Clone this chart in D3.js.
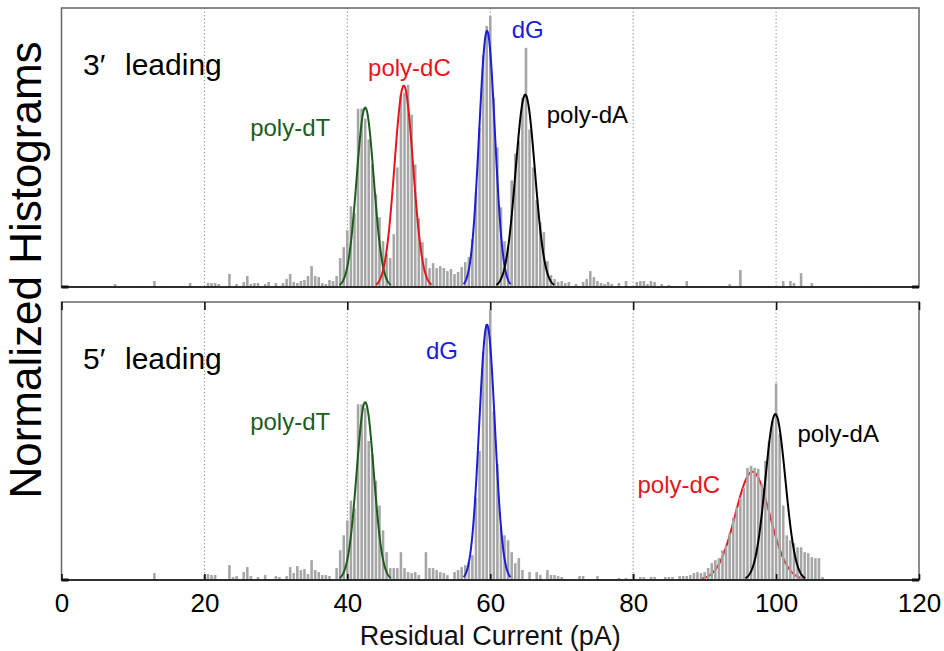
<!DOCTYPE html>
<html>
<head>
<meta charset="utf-8">
<script src="https://cdn.jsdelivr.net/npm/d3@7"></script>
<style>
  html, body { margin: 0; padding: 0; background: #fff; }
  svg { display: block; font-family: "Liberation Sans", Arial, Helvetica, sans-serif; }
</style>
</head>
<body>
<svg id="chart" width="944" height="651"></svg>
<script>
// Residual current histograms (0.5 pA bins): [bin centre pA, normalized count]
const hist3Leading = [
  [3,1],[7.5,3],[11,1],[13,6],[14,1],[18,4],[20.5,4],[21,4],[21.5,4],[22,3],[23.5,13],[24.5,3],
  [25.5,5],[26,11],[26.5,3],[27,4],[27.5,4],[28.5,3],[29,5],[30,4],[31,4],[31.5,8],[32,13],[32.5,5],
  [33,4],[33.5,6],[34,7],[34.5,11],[35,21],[35.5,11],[36,10],[36.5,4],[37,3],[37.5,7],[38,6],[38.5,11],
  [39,29],[39.5,40],[40,57],[40.5,81],[41,74],[41.5,179],[42,179],[42.5,169],[43,148],[43.5,123],[44,93],
  [44.5,70],[45,46],[45.5,33],[46,29],[46.5,53],[47,120],[47.5,193],[48,195],[48.5,203],[49,173],
  [49.5,123],[50,69],[50.5,45],[51,29],[51.5,19],[52,24],[52.5,19],[53,21],[53.5,19],[54,16],[54.5,18],
  [55,13],[55.5,15],[56,20],[56.5,25],[57,30],[57.5,48],[58,95],[58.5,160],[59,233],[59.5,262],[60,272],
  [60.5,190],[61,140],[61.5,80],[62,46],[62.5,40],[63,107],[63.5,134],[64,147],[64.5,190],[65,240],
  [65.5,158],[66,120],[66.5,87],[67,65],[67.5,55],[68,26],[68.5,12],[69,8],[69.5,5],[70,6],[70.5,4],
  [71,5],[72,3],[73,5],[73.5,8],[74,16],[74.5,10],[75,6],[75.5,4],[76,3],[76.5,5],[77,3],[78,4],[79,6],
  [80.5,5],[81,6],[81.5,6],[82,3],[82.5,6],[83,5],[84,3],[85,2],[87.5,6],[89.5,1],[93.5,3],[95,17],
  [99,1],[101,6],[102,6],[102.5,4],[103.5,14],[105,4],[112.5,1]
];

const hist5Leading = [
  [13,7],[18,1],[20,5],[20.5,6],[21,5],[21.5,5],[23.5,15],[24,3],[24.5,4],[25.5,8],[26,13],[26.5,4],
  [27.5,3],[28.5,5],[30,4],[30.5,3],[31.5,4],[32,13],[32.5,7],[33,14],[33.5,10],[34,11],[34.5,6],[35,20],
  [35.5,10],[36,8],[36.5,5],[37,5],[37.5,4],[38.5,12],[39,30],[39.5,45],[40,60],[40.5,80],[41,72],
  [41.5,177],[42,177],[42.5,173],[43,140],[43.5,127],[44,100],[44.5,75],[45,50],[45.5,28],[46,12],
  [46.5,12],[47,12],[47.5,28],[48,12],[48.5,8],[49,7],[49.5,8],[50,5],[51,28],[51.5,12],[52,12],
  [52.5,10],[53,8],[53.5,7],[54,5],[55,8],[55.5,10],[56,13],[56.5,15],[57,18],[57.5,25],[58,83],
  [58.5,130],[59,230],[59.5,258],[60,272],[60.5,170],[61,117],[61.5,53],[62,45],[62.5,40],[63,28],
  [63.5,17],[64,22],[64.5,10],[65.5,8],[66.5,8],[67,5],[68,10],[68.5,5],[69,5],[69.5,4],[70,3],
  [72.5,4],[73,4],[75,4],[76,1],[77,1],[78,2],[79,2],[80,6],[81,3],[81.5,3],[82.5,3],[83,3],[84.5,3],
  [85,3],[85.5,3],[86.5,4],[87,4],[87.5,4],[88,5],[88.5,7],[89,8],[89.5,7],[90,8],[90.5,12],[91,17],
  [91.5,20],[92,22],[92.5,30],[93,35],[93.5,47],[94,63],[94.5,73],[95,83],[95.5,93],[96,113],[96.5,115],
  [97,113],[97.5,112],[98,97],[98.5,120],[99,140],[99.5,160],[100,198],[100.5,147],[101,75],[101.5,45],
  [102,40],[102.5,37],[103,33],[103.5,33],[104,28],[104.5,27],[105,23],[105.5,22],[106,22],[106.5,3],
  [107.5,1]
];

// Gaussian fits: name, centre (pA), sigma (pA), peak height
const fitNames   = ["poly-dT", "poly-dC", "dG", "poly-dA"];
const fitColors  = ["#1d5c1d", "#e5161b", "#1c1cd8", "#000000"];
const fits3Mu    = [42.5, 47.9, 59.55, 64.9];
const fits3Sigma = [1.2, 1.3, 1.1, 1.35];
const fits3Amp   = [180, 202, 257, 193];
const fits5Mu    = [42.5, 96.7, 59.55, 99.9];
const fits5Sigma = [1.2, 2.4, 1.1, 1.4];
const fits5Amp   = [179, 109, 257, 167];

// Label anchor (pA, count) per fitted peak
const labels3 = [[26.4, 152], [42.9, 212], [63, 250], [67.9, 165]];
const labels5 = [[26.4, 151], [80.6, 88], [51, 223], [103, 139]];

const xTicks = [0, 20, 40, 60, 80, 100, 120];
const gridValues = [20, 40, 60, 80, 100];
const panelTitles = ["3\u2032", "5\u2032"];

const svg = d3.select("#chart");
const x = d3.scaleLinear().domain([0, 120]).range([61.5, 919]);
const binW = 0.5;
const barW = (x(binW) - x(0)) * 0.72;

const panels = [
  { top: 8,   bottom: 287, hist: hist3Leading, mu: fits3Mu, sigma: fits3Sigma, amp: fits3Amp, labels: labels3, title: panelTitles[0], under: [] },
  { top: 302, bottom: 580, hist: hist5Leading, mu: fits5Mu, sigma: fits5Sigma, amp: fits5Amp, labels: labels5, title: panelTitles[1], under: [1] }
];

panels.forEach((p, pi) => {
  const y = d3.scaleLinear().domain([0, 280]).range([p.bottom, p.top]);
  const g = svg.append("g");
  const clipId = "clip" + pi;
  svg.append("clipPath").attr("id", clipId)
    .append("rect").attr("x", x(0)).attr("y", p.top)
    .attr("width", x(120) - x(0)).attr("height", p.bottom - p.top);

  // dotted grid
  g.selectAll("line.grid").data(gridValues).join("line")
    .attr("x1", d => x(d)).attr("x2", d => x(d))
    .attr("y1", p.top).attr("y2", p.bottom)
    .attr("stroke", "#808080").attr("stroke-width", 1)
    .attr("stroke-dasharray", "1.2,2.4");

  const line = d3.line().x(d => x(d[0])).y(d => y(d[1])).curve(d3.curveLinear);
  const fitPoints = i => {
    const mu = p.mu[i], s = p.sigma[i], a = p.amp[i];
    return d3.range(mu - 3 * s, mu + 3 * s + 1e-9, s / 40).map(v => [v, a * Math.exp(-((v - mu) ** 2) / (2 * s * s))]);
  };
  const drawFit = (layer, i) => layer.append("path")
    .attr("d", line(fitPoints(i)))
    .attr("fill", "none").attr("stroke", fitColors[i]).attr("stroke-width", 2);

  const plot = g.append("g").attr("clip-path", `url(#${clipId})`);
  // fits that sit behind the histogram
  p.under.forEach(i => drawFit(plot, i));

  // histogram bars
  plot.selectAll("rect.bar").data(p.hist).join("rect")
    .attr("x", d => x(d[0]) - barW / 2)
    .attr("width", barW)
    .attr("y", d => y(d[1]))
    .attr("height", d => y(0) - y(d[1]))
    .attr("fill", "#a6a6a6");

  // remaining fits on top
  fitNames.forEach((n, i) => { if (!p.under.includes(i)) drawFit(plot, i); });

  // frame
  g.append("rect").attr("x", x(0)).attr("y", p.top)
    .attr("width", x(120) - x(0)).attr("height", p.bottom - p.top)
    .attr("fill", "none").attr("stroke", "#666").attr("stroke-width", 1.5);
  g.append("line").attr("x1", x(0)).attr("x2", x(120))
    .attr("y1", p.bottom).attr("y2", p.bottom)
    .attr("stroke", "#111").attr("stroke-width", 1.6);
  // y = 0 ticks on both sides
  [[x(0), x(0) + 7], [x(120) - 7, x(120)]].forEach(s => {
    g.append("line").attr("x1", s[0]).attr("x2", s[1])
      .attr("y1", p.bottom).attr("y2", p.bottom)
      .attr("stroke", "#111").attr("stroke-width", 3);
  });

  // peak labels
  p.labels.forEach((l, i) => {
    g.append("text").attr("x", x(l[0])).attr("y", y(l[1]))
      .attr("fill", fitColors[i]).attr("font-size", 24).text(fitNames[i]);
  });

  // panel title
  g.append("text").attr("x", 83).attr("y", p.top + 67)
    .attr("font-size", 30).attr("fill", "#000").text(p.title);
  g.append("text").attr("x", 125).attr("y", p.top + 67)
    .attr("font-size", 30).attr("fill", "#000").text("leading");

  if (pi === 1) {
    const axB = d3.axisBottom(x).tickValues(xTicks).tickSizeInner(-6).tickSizeOuter(0).tickPadding(14);
    const gb = svg.append("g").attr("transform", `translate(0,${p.bottom})`).call(axB);
    gb.select(".domain").remove();
    gb.selectAll(".tick line").attr("stroke", "#111").attr("stroke-width", 1.6);
    gb.selectAll(".tick text").attr("font-size", 26).attr("fill", "#000")
      .attr("font-family", "Liberation Sans, Arial, sans-serif");
    const axT = d3.axisTop(x).tickValues(xTicks).tickSizeInner(-8).tickSizeOuter(0).tickFormat("");
    const gt = svg.append("g").attr("transform", `translate(0,${p.top})`).call(axT);
    gt.select(".domain").remove();
    gt.selectAll(".tick line").attr("stroke", "#111").attr("stroke-width", 1.6);
  }
});

// axis titles
svg.append("text").attr("x", x(60)).attr("y", 645)
  .attr("text-anchor", "middle").attr("font-size", 27).attr("fill", "#111")
  .text("Residual Current (pA)");
svg.append("text").attr("transform", "translate(41,270) rotate(-90)")
  .attr("text-anchor", "middle").attr("font-size", 44).attr("fill", "#000")
  .text("Normalized Histograms");
</script>
</body>
</html>
